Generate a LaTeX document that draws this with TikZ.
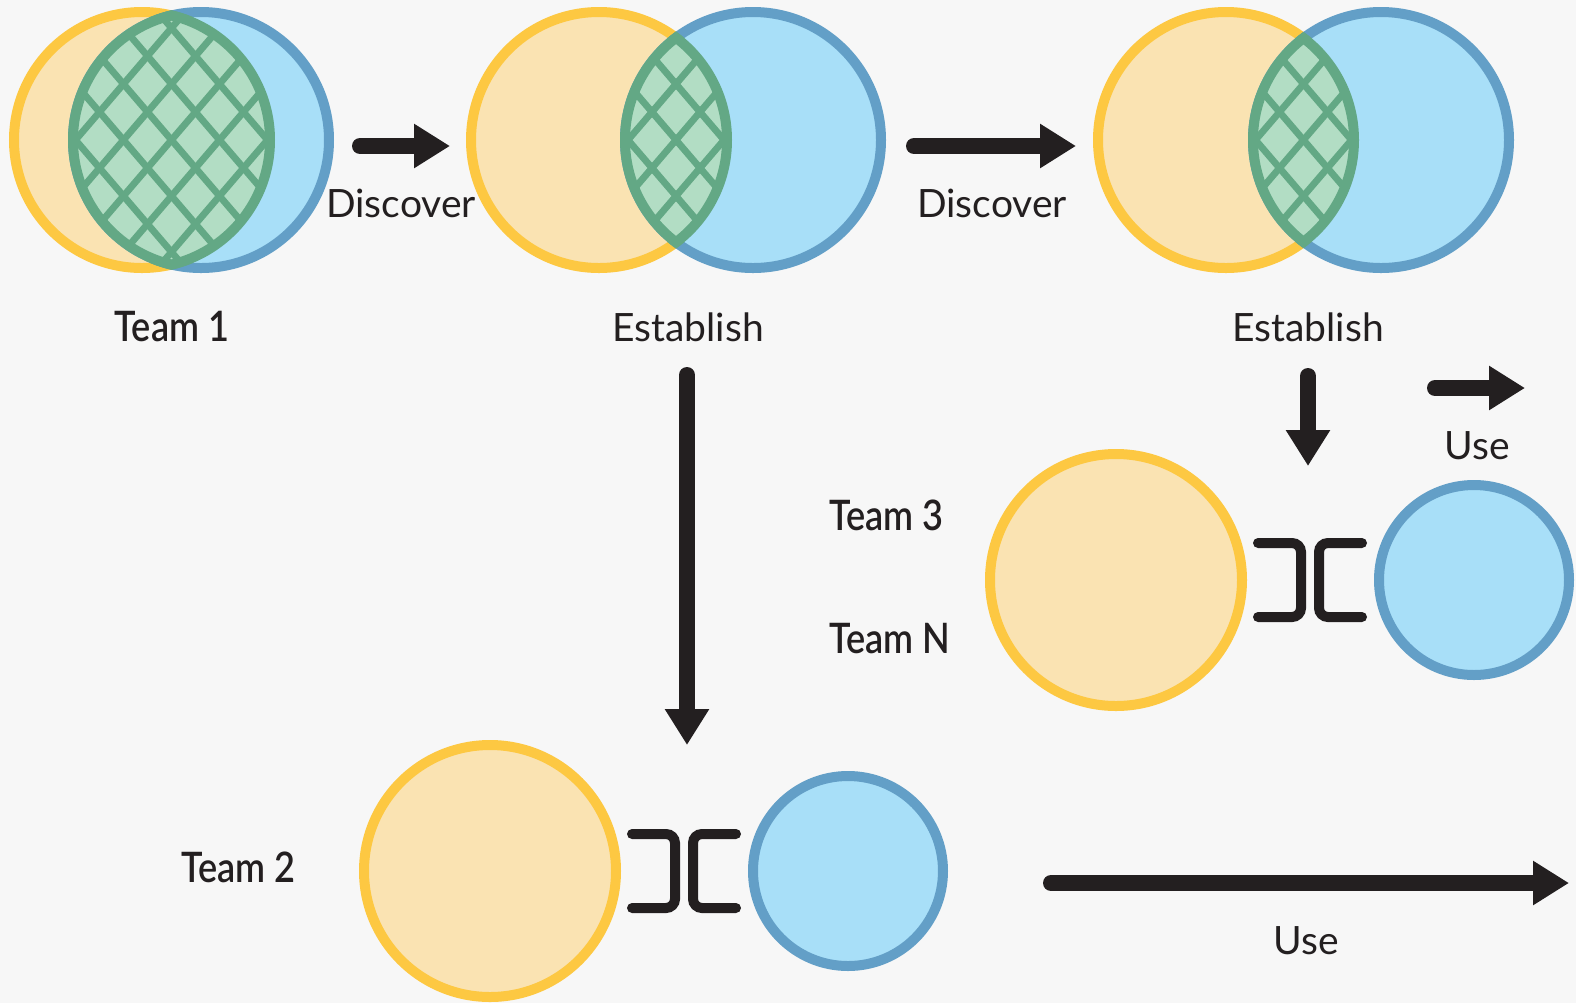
\documentclass[tikz,border=0pt]{standalone}
\usepackage{fontspec}
\setmainfont{Lato}
\newfontfamily\teamfont{Lato Semibold}[FakeStretch=0.86]
\usetikzlibrary{arrows.meta,calc}
\definecolor{bg}{HTML}{F7F7F7}
\definecolor{ylwline}{HTML}{FDC842}
\definecolor{ylwfill}{HTML}{FAE3B2}
\definecolor{blueline}{HTML}{639FC7}
\definecolor{bluefill}{HTML}{A8DFF8}
\definecolor{grnline}{HTML}{63A885}
\definecolor{grnfill}{HTML}{B2DDC4}
\definecolor{ink}{HTML}{231F20}
\newcommand\mylens[3]{%
  \begin{scope}
    \clip (#1) circle (128);
    \clip (#2) circle (128);
    \fill[grnfill] (#1) circle (140);
    \foreach \k in {-6,...,6} {
      \draw[hatchline] ($(#3)+(48*\k,0)+(-144,-168)$) -- ++(288,336);
      \draw[hatchline] ($(#3)+(48*\k,0)+(-144,168)$) -- ++(288,-336);
    }
  \end{scope}
  \begin{scope}
    \clip (#1) circle (133);
    \draw[lensline] (#2) circle (128);
  \end{scope}
  \begin{scope}
    \clip (#2) circle (133);
    \draw[lensline] (#1) circle (128);
  \end{scope}}
\newcommand\mybracket[1]{%
  \draw[brk] ($(#1)+(-52,-37)$) -- ++(43,0) -- ++(0,74) -- ++(-43,0);
  \draw[brk] ($(#1)+(52,-37)$) -- ++(-43,0) -- ++(0,74) -- ++(43,0);}
\begin{document}
\begin{tikzpicture}[x=0.5pt,y=-0.5pt,
  bigcircY/.style={circle, draw=ylwline, fill=ylwfill, line width=5pt, minimum size=128pt, inner sep=0pt, outer sep=0pt},
  bigcircB/.style={circle, draw=blueline, fill=bluefill, line width=5pt, minimum size=128pt, inner sep=0pt, outer sep=0pt},
  midcircY/.style={bigcircY, minimum size=126pt},
  smallcircB/.style={bigcircB, minimum size=95pt},
  hatchline/.style={draw=grnline, line width=3.4pt},
  lensline/.style={draw=grnline, line width=5pt},
  brk/.style={draw=ink, line width=5pt, line cap=round, rounded corners=4.5pt},
  bigarrow/.style={draw=ink, line width=8pt, line cap=round, -{Triangle[length=18pt,width=21pt]}},
  lab/.style={text=ink, inner sep=0pt, font=\fontsize{19.5pt}{22pt}\selectfont},
  teamlab/.style={text=ink, inner sep=0pt, font=\teamfont\fontsize{21pt}{24pt}\selectfont}]
\useasboundingbox[fill=bg] (0,0) rectangle (1576,1003);

% Team 1
\node[bigcircY] (y1) at (142,140) {};
\node[bigcircB] (b1) at (201,140) {};
\coordinate (l1) at ($(y1.center)!0.5!(b1.center)$);
\mylens{y1.center}{b1.center}{l1}

% Pair 2
\node[bigcircY] (y2) at (599,140) {};
\node[bigcircB] (b2) at (753,140) {};
\coordinate (l2) at ($(y2.center)!0.5!(b2.center)$);
\mylens{y2.center}{b2.center}{l2}

% Pair 3
\node[bigcircY] (y3) at (1226,140) {};
\node[bigcircB] (b3) at (1381,140) {};
\coordinate (l3) at ($(y3.center)!0.5!(b3.center)$);
\mylens{y3.center}{b3.center}{l3}

% Team 3 / N
\node[midcircY] (y4) at (1116,580) {};
\node[smallcircB] (b4) at (1474,580) {};
\coordinate (k4) at (1310,580);
\mybracket{k4}

% Team 2
\node[midcircY] (y5) at (490,871) {};
\node[smallcircB] (b5) at (848,871) {};
\coordinate (k5) at (684,871);
\mybracket{k5}

% arrows
\coordinate (a1s) at (360,146); \coordinate (a1e) at (450,146);
\coordinate (a2s) at (914,146); \coordinate (a2e) at (1076,146);
\coordinate (a3s) at (687,375); \coordinate (a3e) at (687,745);
\coordinate (a4s) at (1308,376); \coordinate (a4e) at (1308,466);
\coordinate (a5s) at (1435,388); \coordinate (a5e) at (1525,388);
\coordinate (a6s) at (1051,883); \coordinate (a6e) at (1569,883);
\draw[bigarrow] (a1s) -- (a1e);
\draw[bigarrow] (a2s) -- (a2e);
\draw[bigarrow] (a3s) -- (a3e);
\draw[bigarrow] (a4s) -- (a4e);
\draw[bigarrow] (a5s) -- (a5e);
\draw[bigarrow] (a6s) -- (a6e);

% labels
\node[lab, anchor=base] (t1) at (401,217) {Discover};
\node[lab, anchor=base] (t2) at (992,217) {Discover};
\node[lab, anchor=base] (t3) at (688,341) {Establish};
\node[lab, anchor=base] (t4) at (1308,341) {Establish};
\node[lab, anchor=base] (t5) at (1477,459) {Use};
\node[lab, anchor=base] (t6) at (1306,954) {Use};
\node[teamlab, anchor=base] (n1) at (172,341) {Team 1};
\node[teamlab, anchor=base west] (n2) at (181,882) {Team 2};
\node[teamlab, anchor=base west] (n3) at (829,530) {Team 3};
\node[teamlab, anchor=base west] (n4) at (829,653) {Team N};
\end{tikzpicture}
\end{document}
